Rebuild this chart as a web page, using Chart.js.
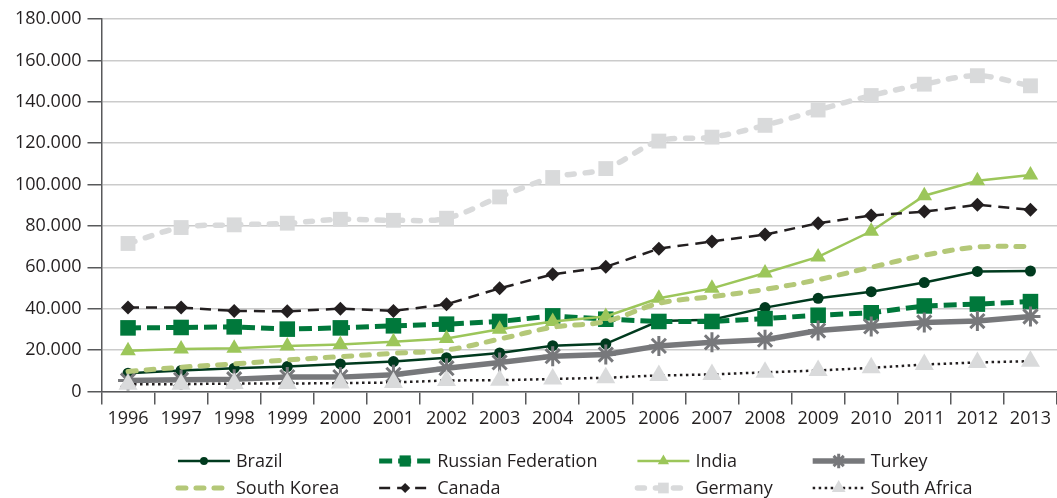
<!DOCTYPE html>
<html>
<head>
<meta charset="utf-8">
<script src="https://cdn.jsdelivr.net/npm/chart.js@4.4.1/dist/chart.umd.min.js"></script>
<style>
html,body{margin:0;padding:0;background:#fff;overflow:hidden;}
#wrap{width:1057px;height:498px;position:relative;}
#c{display:block;}
</style>
</head>
<body>
<div id="wrap"><canvas id="c"></canvas></div>
<script>
const years = ['1996','1997','1998','1999','2000','2001','2002','2003','2004','2005','2006','2007','2008','2009','2010','2011','2012','2013'];
const brazil      = [8800,10100,11200,12000,13300,14400,16300,18600,22100,23000,34000,34600,40500,45000,48200,52600,58000,58200];
const russia      = [30700,30900,31200,30100,30700,31700,32500,33800,36500,34900,33800,33800,35200,36800,38000,41300,42200,43400];
const india       = [19700,20500,20800,21900,22700,24000,25600,30000,33800,36200,45000,49800,57200,65000,77400,94600,101800,104600];
const turkey      = [5300,5600,5900,6900,6900,8000,11200,14000,17000,17800,22000,23700,25000,29400,31400,33300,34000,36200];
const southKorea  = [9600,11700,13300,15200,16800,18400,20000,25300,31000,33800,42600,45800,49300,54000,60000,65800,69800,70000];
const canada      = [40500,40500,38900,38700,40000,38900,42100,49800,56600,60200,69000,72500,75800,81300,85000,86900,90200,87800];
const germany     = [71500,79200,80500,81300,83200,82700,83700,94000,103400,107700,121000,122900,128600,136000,143000,148500,152600,147700];
const southAfrica = [3500,3500,3800,3800,4000,4300,5300,5400,6000,6600,7700,8200,9200,10100,11400,13000,14000,14600];
const seriesNames = ['Brazil','Russian Federation','India','Turkey','South Korea','Canada','Germany','South Africa'];
const yTickValues = [0,20000,40000,60000,80000,100000,120000,140000,160000,180000];

const FONT = "'Open Sans', 'Noto Sans', sans-serif";
const FSIZE = 18;
const TXT = '#231f20';
const AXIS = '#58595b';

function fmt(v){
  return String(v).replace(/\B(?=(\d{3})+(?!\d))/g, '.');
}

const datasets = [
  {label: seriesNames[0], data: brazil, borderColor:'#003a1e', borderWidth:2.5,
   pointStyle:'circle', pointRadius:5.5, pointBackgroundColor:'#003a1e', pointBorderColor:'#003a1e', pointBorderWidth:0},
  {label: seriesNames[1], data: russia, borderColor:'#00783b', borderWidth:5, borderDash:[13,6],
   pointStyle:'rect', pointRadius:11, pointBackgroundColor:'#00783b', pointBorderColor:'#00783b', pointBorderWidth:0},
  {label: seriesNames[2], data: india, borderColor:'#9cc65a', borderWidth:2.5,
   pointStyle:'triangle', pointRadius:9, pointBackgroundColor:'#9cc65a', pointBorderColor:'#9cc65a', pointBorderWidth:0},
  {label: seriesNames[3], data: turkey, borderColor:'#77787b', borderWidth:5.5,
   pointStyle:'star', pointRadius:10, pointBackgroundColor:'#77787b', pointBorderColor:'#77787b', pointBorderWidth:3},
  {label: seriesNames[4], data: southKorea, borderColor:'#b4c878', borderWidth:5, borderDash:[8,10], borderCapStyle:'round',
   tension:0.35, pointStyle:'circle', pointRadius:0, pointBackgroundColor:'#b4c878', pointBorderColor:'#b4c878', pointBorderWidth:0},
  {label: seriesNames[5], data: canada, borderColor:'#231f20', borderWidth:2.5, borderDash:[11,7],
   pointStyle:'rectRot', pointRadius:7, pointBackgroundColor:'#231f20', pointBorderColor:'#231f20', pointBorderWidth:0},
  {label: seriesNames[6], data: germany, borderColor:'#d9dadb', borderWidth:5.5, borderDash:[7,11], borderCapStyle:'round',
   tension:0.35, pointStyle:'rect', pointRadius:10.5, pointBackgroundColor:'#d9dadb', pointBorderColor:'#d9dadb', pointBorderWidth:0},
  {label: seriesNames[7], data: southAfrica, borderColor:'#231f20', borderWidth:2.5, borderDash:[2.5,3.5],
   pointStyle:'triangle', pointRadius:11, pointBackgroundColor:'#d9dadb', pointBorderColor:'#d9dadb', pointBorderWidth:0}
];
datasets.forEach((d,i)=>{ d.order = datasets.length - 1 - i; d.fill = false; d.pointHoverRadius = d.pointRadius; d.clip = false; });

function ownDrawPoint(ctx, style, r, x, y, bw){
  ctx.beginPath();
  if (style === 'circle') { ctx.arc(x,y,r,0,Math.PI*2); ctx.fill(); }
  else if (style === 'rect') { const s=r*Math.SQRT1_2; ctx.rect(x-s,y-s,2*s,2*s); ctx.fill(); }
  else if (style === 'rectRot') { ctx.moveTo(x-r,y); ctx.lineTo(x,y-r); ctx.lineTo(x+r,y); ctx.lineTo(x,y+r); ctx.closePath(); ctx.fill(); }
  else if (style === 'triangle') { let a=0; ctx.moveTo(x+Math.sin(a)*r,y-Math.cos(a)*r); a+=2*Math.PI/3; ctx.lineTo(x+Math.sin(a)*r,y-Math.cos(a)*r); a+=2*Math.PI/3; ctx.lineTo(x+Math.sin(a)*r,y-Math.cos(a)*r); ctx.closePath(); ctx.fill(); }
  else if (style === 'star') { ctx.moveTo(x-r,y); ctx.lineTo(x+r,y); ctx.moveTo(x,y-r); ctx.lineTo(x,y+r); const d=r*Math.SQRT1_2; ctx.moveTo(x-d,y-d); ctx.lineTo(x+d,y+d); ctx.moveTo(x-d,y+d); ctx.lineTo(x+d,y-d); }
  if (bw > 0) ctx.stroke();
}

const legendRows = [[0,1,2,3],[4,5,6,7]];

const customLegend = {
  id: 'customLegend',
  afterDraw(chart){
    const ctx = chart.ctx, ca = chart.chartArea, ds = chart.data.datasets;
    ctx.save();
    ctx.font = FSIZE + 'px ' + FONT;
    const lineLen = 52, textGap = 6, colGap = 40;
    const colW = [0,1,2,3].map(c => lineLen + textGap + Math.max(
      ctx.measureText(ds[legendRows[0][c]].label).width,
      ctx.measureText(ds[legendRows[1][c]].label).width));
    const total = colW.reduce((a,b)=>a+b,0) + colGap*3;
    const startX = (ca.left + ca.right)/2 - total/2 - 4;
    const rowY = [chart.height - 37, chart.height - 10];
    legendRows.forEach((row, r) => {
      let x = startX;
      row.forEach((idx, c) => {
        const d = ds[idx];
        const y = rowY[r];
        ctx.save();
        ctx.strokeStyle = d.borderColor;
        ctx.lineWidth = d.borderWidth;
        ctx.lineCap = d.borderCapStyle || 'butt';
        ctx.setLineDash(d.borderDash || []);
        ctx.beginPath();
        ctx.moveTo(x, y); ctx.lineTo(x + lineLen, y);
        ctx.stroke();
        ctx.restore();
        if (d.pointRadius > 0) {
          ctx.save();
          ctx.setLineDash([]);
          ctx.fillStyle = d.pointBackgroundColor;
          ctx.strokeStyle = d.pointBorderColor;
          ctx.lineWidth = d.pointBorderWidth;
          const rr = d.pointRadius * 0.72;
          const cx = x + lineLen/2;
          if (Chart.helpers && Chart.helpers.drawPoint) {
            Chart.helpers.drawPoint(ctx, {pointStyle: d.pointStyle, radius: rr, rotation: 0, borderWidth: d.pointBorderWidth}, cx, y);
          } else {
            ownDrawPoint(ctx, d.pointStyle, rr, cx, y, d.pointBorderWidth);
          }
          ctx.restore();
        }
        ctx.fillStyle = TXT;
        ctx.textAlign = 'left';
        ctx.textBaseline = 'middle';
        ctx.fillText(d.label, x + lineLen + textGap, y + 1);
        x += colW[c] + colGap;
      });
    });
    ctx.restore();
  }
};

new Chart(document.getElementById('c'), {
  type: 'line',
  data: { labels: years, datasets: datasets },
  plugins: [customLegend],
  options: {
    responsive: true,
    maintainAspectRatio: false,
    animation: false,
    layout: { autoPadding: false, padding: { left: 9, right: 0, top: 19, bottom: 64 } },
    plugins: { legend: { display: false }, tooltip: { enabled: false } },
    scales: {
      x: {
        offset: true,
        grid: { offset: true, drawOnChartArea: false, tickLength: 13, tickColor: AXIS, color: AXIS, lineWidth: 1.5 },
        border: { color: AXIS, width: 1.5 },
        ticks: { color: TXT, font: { family: FONT, size: FSIZE }, padding: 4, maxRotation: 0, minRotation: 0, autoSkip: false }
      },
      y: {
        min: 0, max: 180000,
        afterBuildTicks: (axis) => { axis.ticks = yTickValues.map(v => ({ value: v })); },
        grid: { color: '#cbcbcb', lineWidth: 1.5, tickLength: 14, tickColor: AXIS },
        border: { color: AXIS, width: 1.5 },
        ticks: { color: TXT, font: { family: FONT, size: FSIZE }, padding: 6, callback: (v) => fmt(v) }
      }
    }
  }
});
</script>
</body>
</html>
